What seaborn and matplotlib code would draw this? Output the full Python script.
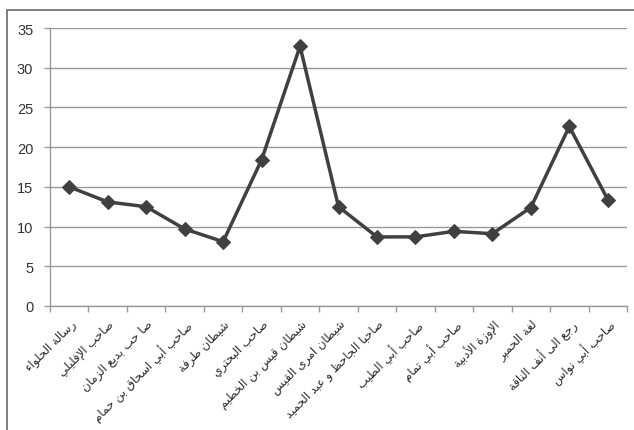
import matplotlib
matplotlib.use("Agg")
import matplotlib.pyplot as plt
import seaborn as sns
import pandas as pd
from matplotlib.patches import Rectangle

categories = [
    "رسالة الحلواء",
    "صاحب الإفليلي",
    "صا حب بديع الزمان",
    "صاحب أبي اسحاق بن حمام",
    "شيطان طرفة",
    "صاحب البحتري",
    "شيطان قيس بن الخطيم",
    "شيطان امرى القيس",
    "صاحبا الجاحظ و عبد الحميد",
    "صاحب أبي الطيب",
    "صاحب أبي تمام",
    "الإوزة الأدبية",
    "لغة الحمير",
    "رجع الى أنف الناقة",
    "صاحب أبي نواس",
]
values = [15.0, 13.1, 12.5, 9.7, 8.1, 18.4, 32.7, 12.5, 8.7, 8.7, 9.4, 9.1, 12.4, 22.6, 13.4]
yticks = [0, 5, 10, 15, 20, 25, 30, 35]

# --- minimal Arabic shaping (presentation forms) for display ---
FORMS = {
    "ا": (0xFE8D, 0xFE8E, None, None), "أ": (0xFE83, 0xFE84, None, None),
    "إ": (0xFE87, 0xFE88, None, None), "آ": (0xFE81, 0xFE82, None, None),
    "ب": (0xFE8F, 0xFE90, 0xFE91, 0xFE92), "ة": (0xFE93, 0xFE94, None, None),
    "ت": (0xFE95, 0xFE96, 0xFE97, 0xFE98), "ث": (0xFE99, 0xFE9A, 0xFE9B, 0xFE9C),
    "ج": (0xFE9D, 0xFE9E, 0xFE9F, 0xFEA0), "ح": (0xFEA1, 0xFEA2, 0xFEA3, 0xFEA4),
    "خ": (0xFEA5, 0xFEA6, 0xFEA7, 0xFEA8), "د": (0xFEA9, 0xFEAA, None, None),
    "ذ": (0xFEAB, 0xFEAC, None, None), "ر": (0xFEAD, 0xFEAE, None, None),
    "ز": (0xFEAF, 0xFEB0, None, None), "س": (0xFEB1, 0xFEB2, 0xFEB3, 0xFEB4),
    "ش": (0xFEB5, 0xFEB6, 0xFEB7, 0xFEB8), "ص": (0xFEB9, 0xFEBA, 0xFEBB, 0xFEBC),
    "ض": (0xFEBD, 0xFEBE, 0xFEBF, 0xFEC0), "ط": (0xFEC1, 0xFEC2, 0xFEC3, 0xFEC4),
    "ظ": (0xFEC5, 0xFEC6, 0xFEC7, 0xFEC8), "ع": (0xFEC9, 0xFECA, 0xFECB, 0xFECC),
    "غ": (0xFECD, 0xFECE, 0xFECF, 0xFED0), "ف": (0xFED1, 0xFED2, 0xFED3, 0xFED4),
    "ق": (0xFED5, 0xFED6, 0xFED7, 0xFED8), "ك": (0xFED9, 0xFEDA, 0xFEDB, 0xFEDC),
    "ل": (0xFEDD, 0xFEDE, 0xFEDF, 0xFEE0), "م": (0xFEE1, 0xFEE2, 0xFEE3, 0xFEE4),
    "ن": (0xFEE5, 0xFEE6, 0xFEE7, 0xFEE8), "ه": (0xFEE9, 0xFEEA, 0xFEEB, 0xFEEC),
    "و": (0xFEED, 0xFEEE, None, None), "ى": (0xFEEF, 0xFEF0, None, None),
    "ي": (0xFEF1, 0xFEF2, 0xFEF3, 0xFEF4), "ئ": (0xFE89, 0xFE8A, 0xFE8B, 0xFE8C),
    "ؤ": (0xFE85, 0xFE86, None, None), "ء": (0xFE80, None, None, None),
}
LAMALEF = {"ا": (0xFEFB, 0xFEFC), "أ": (0xFEF7, 0xFEF8), "إ": (0xFEF9, 0xFEFA), "آ": (0xFEF5, 0xFEF6)}


def joins_left(c):
    return c in FORMS and FORMS[c][2] is not None


def joins_right(c):
    return c in FORMS and FORMS[c][1] is not None


def shape(text):
    out = []
    chars = list(text)
    i = 0
    n = len(chars)
    while i < n:
        c = chars[i]
        prev = chars[i - 1] if i > 0 else ""
        pj = joins_left(prev) and c in FORMS
        if c == "ل" and i + 1 < n and chars[i + 1] in LAMALEF:
            iso, fin = LAMALEF[chars[i + 1]]
            out.append(chr(fin if pj else iso))
            i += 2
            continue
        if c not in FORMS:
            out.append(c)
            i += 1
            continue
        nxt = chars[i + 1] if i + 1 < n else ""
        nj = joins_right(nxt) and joins_left(c)
        iso, fin, ini, med = FORMS[c]
        if pj and nj:
            g = med
        elif pj and fin is not None:
            g = fin
        elif nj:
            g = ini
        else:
            g = iso
        out.append(chr(g))
        i += 1
    return "".join(reversed(out))


sns.set_theme(style="white")
plt.rcParams["font.family"] = ["DejaVu Sans"]

fig = plt.figure(figsize=(6.34, 4.31), dpi=100)
fig.patch.set_facecolor("white")
ax = fig.add_axes([50 / 634, 124 / 431, 577 / 634, 278 / 431])

df = pd.DataFrame({"cat": categories, "val": values})
df["pos"] = range(len(df))
sns.lineplot(data=df, x="pos", y="val", ax=ax, color="#404040", linewidth=2.5,
             marker="D", markersize=7.5, markeredgecolor="#404040", sort=False)

ax.set_xlim(-0.5, len(categories) - 0.5)
ax.set_ylim(0, 35)
ax.set_yticks(yticks)
ax.set_yticklabels([str(t) for t in yticks], fontsize=10.5, color="#333333",
                   family=["Liberation Sans", "DejaVu Sans"])
ax.yaxis.grid(True, color="#9a9a9a", linewidth=1.0)
ax.set_axisbelow(True)

ax.set_xticks(range(len(categories)))
ax.set_xticklabels([shape(c) for c in categories], rotation=45, ha="right",
                   rotation_mode="anchor", fontsize=8.5, color="#2a2a2a")
ax.set_xticks([k - 0.5 for k in range(len(categories) + 1)], minor=True)
ax.tick_params(axis="x", which="major", length=0, pad=8)
ax.tick_params(axis="x", which="minor", length=4, color="#9a9a9a", width=1, direction="out", bottom=True)
ax.tick_params(axis="y", length=4, color="#9a9a9a", width=1, left=True, pad=8)

for s in ["top", "right"]:
    ax.spines[s].set_visible(False)
ax.spines["left"].set_color("#9a9a9a")
ax.spines["bottom"].set_color("#9a9a9a")
ax.spines["left"].set_linewidth(1)
ax.spines["bottom"].set_linewidth(1)
ax.set_xlabel("")
ax.set_ylabel("")

fig.patches.append(Rectangle((7 / 634, -0.1), 1.0, 0.1 + (431 - 11) / 431,
                             transform=fig.transFigure, fill=False,
                             edgecolor="#6a6a6a", linewidth=1.2))

fig.savefig("out.png", dpi=100)
